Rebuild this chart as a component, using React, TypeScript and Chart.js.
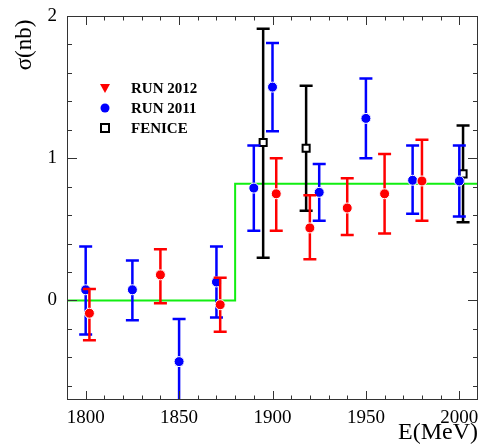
import React, { useEffect, useRef } from "react";
import { Chart, registerables } from "chart.js";

Chart.register(...registerables);

// ---- data ----
const run2012E = [1802, 1840, 1872, 1902, 1920, 1940, 1960, 1980];
const run2012Sigma = [-0.09, 0.18, -0.03, 0.75, 0.51, 0.65, 0.75, 0.84];
const run2012Hi = [0.08, 0.36, 0.16, 1.0, 0.74, 0.86, 1.03, 1.13];
const run2012Lo = [-0.28, -0.02, -0.22, 0.49, 0.29, 0.46, 0.47, 0.56];

const run2011E = [1800, 1825, 1850, 1870, 1890, 1900, 1925, 1950, 1975, 2000];
const run2011Sigma = [0.075, 0.075, -0.43, 0.13, 0.79, 1.5, 0.76, 1.28, 0.845, 0.84];
const run2011Hi = [0.38, 0.28, -0.13, 0.38, 1.09, 1.81, 0.96, 1.56, 1.09, 1.09];
const run2011Lo = [-0.24, -0.14, -0.8, -0.12, 0.49, 1.19, 0.56, 1.0, 0.61, 0.59];

const feniceE = [1895, 1918, 2002];
const feniceSigma = [1.11, 1.07, 0.89];
const feniceHi = [1.91, 1.51, 1.23];
const feniceLo = [0.3, 0.63, 0.55];

const stepE = [1790, 1880, 1880, 2010];
const stepSigma = [0, 0, 0.82, 0.82];

const xLabels = [1800, 1850, 1900, 1950, 2000];
const yLabels = [0, 1, 2];
const xMinorStep = 10;
const yMinorStep = 0.2;
const legendLabels = ["RUN 2012", "RUN 2011", "FENICE"];
const xTitle = "E(MeV)";
const yTitle = "σ(nb)";

const X_MIN = 1790;
const X_MAX = 2010;
const Y_MIN = -0.7;
const Y_MAX = 2;

const RED = "#ff0000";
const BLUE = "#0000ff";
const BLACK = "#000000";
const GREEN = "#11ee11";
const SERIF = "'Liberation Serif', 'Times New Roman', serif";

const errors: Record<number, { hi: number[]; lo: number[]; color: string }> = {
  0: { hi: run2012Hi, lo: run2012Lo, color: RED },
  1: { hi: run2011Hi, lo: run2011Lo, color: BLUE },
  2: { hi: feniceHi, lo: feniceLo, color: BLACK },
};

const errorBarPlugin = {
  id: "errorBars",
  beforeDatasetDraw(chart: any, args: any) {
    const e = errors[args.index];
    if (!e) return;
    const ds = chart.data.datasets[args.index];
    const xs = chart.scales.x;
    const ys = chart.scales.y;
    const ca = chart.chartArea;
    const ctx = chart.ctx;
    ctx.save();
    ctx.beginPath();
    ctx.rect(ca.left, ca.top, ca.right - ca.left, ca.bottom - ca.top);
    ctx.clip();
    ctx.strokeStyle = e.color;
    ctx.lineWidth = 2.5;
    ds.data.forEach((p: any, i: number) => {
      const px = xs.getPixelForValue(p.x);
      const yh = ys.getPixelForValue(e.hi[i]);
      const yl = ys.getPixelForValue(e.lo[i]);
      ctx.beginPath();
      ctx.moveTo(px, yh);
      ctx.lineTo(px, yl);
      ctx.moveTo(px - 6.5, yh);
      ctx.lineTo(px + 6.5, yh);
      ctx.moveTo(px - 6.5, yl);
      ctx.lineTo(px + 6.5, yl);
      ctx.stroke();
    });
    ctx.restore();
  },
};

const framePlugin = {
  id: "frame",
  afterDraw(chart: any) {
    const ctx = chart.ctx;
    const ca = chart.chartArea;
    const xs = chart.scales.x;
    const ys = chart.scales.y;
    ctx.save();
    ctx.strokeStyle = "#333";
    ctx.lineWidth = 1;
    ctx.strokeRect(ca.left + 0.5, ca.top + 0.5, ca.right - ca.left - 1, ca.bottom - ca.top - 1);
    ctx.beginPath();
    for (let v = 1800; v <= 2000 + 1e-6; v += xMinorStep) {
      const px = Math.round(xs.getPixelForValue(v)) + 0.5;
      const major = Math.abs(v % 50) < 1e-6;
      const len = major ? 9 : 4.5;
      ctx.moveTo(px, ca.bottom);
      ctx.lineTo(px, ca.bottom - len);
      ctx.moveTo(px, ca.top);
      ctx.lineTo(px, ca.top + len);
    }
    for (let k = Math.ceil(Y_MIN / yMinorStep); k * yMinorStep <= Y_MAX + 1e-6; k++) {
      const v = k * yMinorStep;
      const py = Math.round(ys.getPixelForValue(v)) + 0.5;
      const major = Math.abs(v - Math.round(v)) < 1e-6;
      const len = major ? 10 : 5;
      ctx.moveTo(ca.left, py);
      ctx.lineTo(ca.left + len, py);
      ctx.moveTo(ca.right, py);
      ctx.lineTo(ca.right - len, py);
    }
    ctx.stroke();

    // axis titles
    ctx.fillStyle = "#000";
    ctx.font = `24px ${SERIF}`;
    ctx.textAlign = "right";
    ctx.textBaseline = "alphabetic";
    ctx.fillText(xTitle, ca.right, 439);
    ctx.save();
    ctx.translate(31, 45);
    ctx.rotate(-Math.PI / 2);
    ctx.textAlign = "center";
    ctx.font = `23px ${SERIF}`;
    ctx.fillText(yTitle, 0, 0);
    ctx.restore();

    // legend
    const lx = 105;
    const ly = [88, 108, 128];
    ctx.font = `bold 15px ${SERIF}`;
    ctx.textAlign = "left";
    ctx.textBaseline = "middle";
    legendLabels.forEach((t, i) => {
      ctx.fillText(t, 131, ly[i] + 1);
    });
    ctx.fillStyle = RED;
    ctx.beginPath();
    ctx.moveTo(lx - 5, ly[0] - 4);
    ctx.lineTo(lx + 5, ly[0] - 4);
    ctx.lineTo(lx, ly[0] + 5);
    ctx.closePath();
    ctx.fill();
    ctx.fillStyle = BLUE;
    ctx.beginPath();
    ctx.arc(lx, ly[1], 4.5, 0, Math.PI * 2);
    ctx.fill();
    ctx.strokeStyle = BLACK;
    ctx.lineWidth = 2;
    ctx.strokeRect(lx - 4, ly[2] - 4, 8, 8);
    ctx.restore();
  },
};

function pts(xs: number[], ys: number[]) {
  return xs.map((x, i) => ({ x, y: ys[i] }));
}

export default function App() {
  const ref = useRef<HTMLCanvasElement>(null);
  useEffect(() => {
    if (!ref.current) return;
    const chart = new Chart(ref.current, {
      type: "scatter",
      data: {
        datasets: [
          {
            label: legendLabels[0],
            data: pts(run2012E, run2012Sigma),
            backgroundColor: RED,
            borderColor: "#fff",
            borderWidth: 1,
            pointRadius: 5,
            order: 0,
          },
          {
            label: legendLabels[1],
            data: pts(run2011E, run2011Sigma),
            backgroundColor: BLUE,
            borderColor: "#fff",
            borderWidth: 1,
            pointRadius: 5,
            order: 0,
          },
          {
            label: legendLabels[2],
            data: pts(feniceE, feniceSigma),
            backgroundColor: "#fff",
            borderColor: BLACK,
            borderWidth: 2,
            pointStyle: "rect",
            pointRadius: 5,
            order: 0,
          },
          {
            label: "fit",
            data: pts(stepE, stepSigma),
            showLine: true,
            borderColor: GREEN,
            borderWidth: 2,
            pointRadius: 0,
            fill: false,
            order: 10,
          } as any,
        ],
      },
      options: {
        animation: false,
        responsive: false,
        maintainAspectRatio: false,
        layout: { autoPadding: false, padding: { left: 0, top: 16, right: 2, bottom: 0 } },
        plugins: { legend: { display: false }, tooltip: { enabled: false } },
        scales: {
          x: {
            type: "linear",
            min: X_MIN,
            max: X_MAX,
            grid: { display: false, drawTicks: false },
            border: { display: false },
            afterBuildTicks: (s: any) => {
              s.ticks = xLabels.map((v) => ({ value: v }));
            },
            afterFit: (s: any) => {
              s.height = 47;
              s.paddingLeft = 0;
              s.paddingRight = 0;
            },
            ticks: {
              autoSkip: false,
              maxRotation: 0,
              padding: 7,
              color: "#000",
              font: { family: SERIF, size: 19 },
              callback: (v: any) => String(v),
            },
          },
          y: {
            type: "linear",
            min: Y_MIN,
            max: Y_MAX,
            grid: { display: false, drawTicks: false },
            border: { display: false },
            afterBuildTicks: (s: any) => {
              s.ticks = yLabels.map((v) => ({ value: v }));
            },
            afterFit: (s: any) => {
              s.width = 67;
              s.paddingTop = 0;
              s.paddingBottom = 0;
            },
            ticks: {
              autoSkip: false,
              padding: 10,
              color: "#000",
              font: { family: SERIF, size: 19 },
              callback: (v: any) => String(v),
            },
          },
        },
      },
      plugins: [errorBarPlugin, framePlugin],
    });
    return () => chart.destroy();
  }, []);
  return (
    <div style={{ position: "absolute", left: 0, top: 0, width: 480, height: 447, background: "#fff" }}>
      <canvas ref={ref} width={480} height={447} style={{ width: 480, height: 447 }} />
    </div>
  );
}
